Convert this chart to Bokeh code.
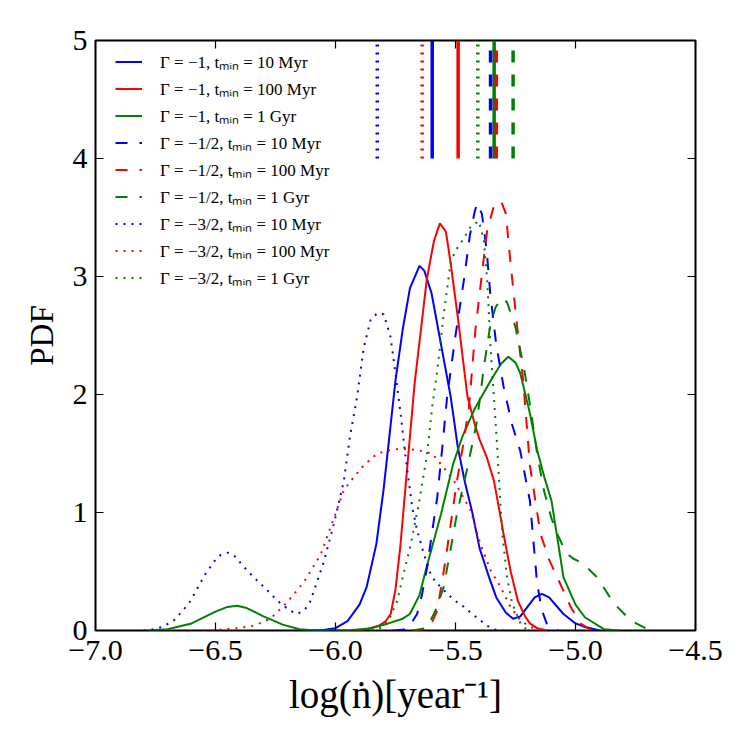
from bokeh.plotting import figure
from bokeh.models import Legend, LegendItem, FixedTicker, LinearAxis, Range1d
from bokeh.embed import file_html
from bokeh.resources import INLINE

# ---- PDF curves of log(n-dot) for each (Gamma, t_min) model ----
# Gamma = -1
x_g1_10 = [-6.10, -6.05, -6.00, -5.95, -5.90, -5.87, -5.83, -5.80, -5.75, -5.72, -5.69,
           -5.65, -5.63, -5.60, -5.56, -5.52, -5.49, -5.46, -5.43, -5.40, -5.36, -5.33,
           -5.29, -5.26, -5.23, -5.20, -5.17, -5.14, -5.11, -5.08, -5.05, -5.00, -4.96, -4.90]
pdf_g1_10 = [0.0, 0.005, 0.02, 0.08, 0.22, 0.37, 0.73, 1.19, 2.12, 2.55, 2.90,
             3.09, 3.05, 2.86, 2.42, 1.98, 1.55, 1.25, 1.00, 0.70, 0.45, 0.28,
             0.15, 0.10, 0.12, 0.20, 0.28, 0.31, 0.28, 0.21, 0.14, 0.06, 0.03, 0.0]

x_g1_100 = [-5.92, -5.87, -5.82, -5.79, -5.77, -5.75, -5.73, -5.70, -5.67, -5.64, -5.62,
            -5.59, -5.565, -5.54, -5.52, -5.49, -5.45, -5.42, -5.40, -5.37, -5.34, -5.32,
            -5.30, -5.27, -5.24, -5.21, -5.19, -5.16, -5.12]
pdf_g1_100 = [0.0, 0.01, 0.04, 0.08, 0.14, 0.35, 0.71, 1.41, 2.10, 2.62, 2.97,
              3.30, 3.45, 3.38, 3.11, 2.65, 1.98, 1.75, 1.62, 1.47, 1.27, 1.05,
              0.82, 0.50, 0.25, 0.12, 0.06, 0.02, 0.0]

x_g1_1000 = [-6.78, -6.70, -6.60, -6.50, -6.45, -6.41, -6.37, -6.30, -6.22, -6.15, -6.08,
             -5.95, -5.85, -5.78, -5.72, -5.69, -5.65, -5.62, -5.56, -5.51, -5.47, -5.42,
             -5.35, -5.31, -5.28, -5.25, -5.23, -5.19, -5.16, -5.13, -5.10, -5.05, -5.00,
             -4.96, -4.88, -4.82]
pdf_g1_1000 = [0.0, 0.01, 0.06, 0.16, 0.20, 0.21, 0.19, 0.12, 0.05, 0.01, 0.0,
               0.0, 0.02, 0.06, 0.10, 0.14, 0.30, 0.54, 0.99, 1.41, 1.65, 1.88,
               2.13, 2.26, 2.32, 2.27, 2.18, 1.84, 1.53, 1.30, 1.10, 0.45, 0.22,
               0.11, 0.01, 0.0]

# Gamma = -1/2
x_g05_10 = [-5.76, -5.70, -5.66, -5.64, -5.618, -5.60, -5.576, -5.555, -5.535, -5.50,
            -5.465, -5.44, -5.42, -5.41, -5.39, -5.37, -5.355, -5.33, -5.30, -5.265,
            -5.23, -5.19, -5.175, -5.16, -5.14, -5.12, -5.10, -5.07]
pdf_g05_10 = [0.0, 0.01, 0.14, 0.30, 0.54, 0.80, 1.13, 1.55, 1.98, 2.50,
              2.97, 3.35, 3.55, 3.62, 3.53, 3.22, 2.85, 2.42, 2.07, 1.75,
              1.52, 1.10, 0.75, 0.40, 0.17, 0.06, 0.02, 0.0]

x_g05_100 = [-5.68, -5.618, -5.60, -5.576, -5.542, -5.52, -5.496, -5.47, -5.444, -5.417,
             -5.39, -5.368, -5.34, -5.31, -5.29, -5.27, -5.243, -5.218, -5.19, -5.146,
             -5.11, -5.076, -5.02, -4.98, -4.94, -4.90]
pdf_g05_100 = [0.0, 0.01, 0.06, 0.17, 0.59, 0.90, 1.24, 1.55, 1.89, 2.55,
               3.02, 3.39, 3.60, 3.64, 3.53, 3.10, 2.57, 2.12, 1.40, 0.82,
               0.60, 0.45, 0.20, 0.06, 0.01, 0.0]

x_g05_1000 = [-5.68, -5.62, -5.583, -5.549, -5.514, -5.493, -5.45, -5.41, -5.382, -5.354,
              -5.333, -5.305, -5.285, -5.25, -5.215, -5.188, -5.16, -5.132, -5.10, -5.076,
              -5.04, -5.01, -4.98, -4.95, -4.91, -4.84, -4.77, -4.70, -4.66]
pdf_g05_1000 = [0.0, 0.02, 0.17, 0.37, 0.76, 1.00, 1.38, 1.78, 2.23, 2.60,
                2.74, 2.82, 2.78, 2.57, 2.23, 1.89, 1.50, 1.19, 0.95, 0.82,
                0.66, 0.61, 0.58, 0.53, 0.45, 0.23, 0.085, 0.01, 0.0]

# Gamma = -3/2
x_g15_10 = [-6.80, -6.77, -6.72, -6.674, -6.64, -6.604, -6.542, -6.50, -6.479, -6.449,
            -6.42, -6.382, -6.34, -6.299, -6.26, -6.229, -6.19, -6.16, -6.13, -6.104,
            -6.076, -6.049, -6.007, -5.965, -5.94, -5.91, -5.882, -5.854, -5.826, -5.799,
            -5.771, -5.75, -5.729, -5.708, -5.68, -5.66, -5.632, -5.604, -5.58, -5.56,
            -5.535, -5.50, -5.465, -5.43, -5.396, -5.36, -5.34, -5.30]
pdf_g15_10 = [0.0, 0.005, 0.03, 0.085, 0.16, 0.25, 0.48, 0.60, 0.64, 0.66,
              0.63, 0.54, 0.45, 0.37, 0.29, 0.23, 0.17, 0.14, 0.17, 0.25,
              0.42, 0.58, 0.90, 1.27, 1.64, 1.98, 2.40, 2.63, 2.69, 2.68,
              2.49, 2.18, 1.84, 1.47, 1.04, 0.85, 0.65, 0.48, 0.40, 0.37,
              0.31, 0.25, 0.20, 0.14, 0.085, 0.03, 0.01, 0.0]

x_g15_100 = [-6.55, -6.49, -6.41, -6.34, -6.271, -6.201, -6.132, -6.0625, -6.007, -5.965,
             -5.924, -5.882, -5.826, -5.771, -5.729, -5.66, -5.597, -5.549, -5.507, -5.4375,
             -5.396, -5.354, -5.3125, -5.271, -5.229, -5.188, -5.14]
pdf_g15_100 = [0.0, 0.005, 0.02, 0.04, 0.10, 0.24, 0.41, 0.64, 0.95, 1.19,
               1.30, 1.40, 1.50, 1.53, 1.54, 1.53, 1.50, 1.38, 1.27, 1.02,
               0.73, 0.51, 0.37, 0.20, 0.085, 0.03, 0.0]

x_g15_1000 = [-5.85, -5.80, -5.771, -5.743, -5.72, -5.6875, -5.653, -5.618, -5.597, -5.576,
              -5.549, -5.521, -5.50, -5.479, -5.4375, -5.403, -5.382, -5.368, -5.354, -5.34,
              -5.326, -5.315, -5.305, -5.285, -5.264, -5.229, -5.20]
pdf_g15_1000 = [0.0, 0.03, 0.12, 0.25, 0.45, 0.72, 1.07, 1.50, 1.90, 2.20,
                2.68, 3.11, 3.22, 3.28, 3.42, 3.47, 3.31, 2.97, 2.40, 1.98,
                1.55, 1.15, 0.82, 0.45, 0.23, 0.06, 0.0]

# Median of each model, marked by a short vertical bar at the top
medians = [-5.597, -5.489, -5.339, -5.354, -5.330, -5.260, -5.826, -5.639, -5.407]

labels = [
    "Γ = −1, tₘᵢₙ = 10 Myr",
    "Γ = −1, tₘᵢₙ = 100 Myr",
    "Γ = −1, tₘᵢₙ = 1 Gyr",
    "Γ = −1/2, tₘᵢₙ = 10 Myr",
    "Γ = −1/2, tₘᵢₙ = 100 Myr",
    "Γ = −1/2, tₘᵢₙ = 1 Gyr",
    "Γ = −3/2, tₘᵢₙ = 10 Myr",
    "Γ = −3/2, tₘᵢₙ = 100 Myr",
    "Γ = −3/2, tₘᵢₙ = 1 Gyr",
]

x_ticks = [-7.0, -6.5, -6.0, -5.5, -5.0, -4.5]
x_tick_labels = ["−7.0", "−6.5", "−6.0", "−5.5", "−5.0", "−4.5"]
y_ticks = [0, 1, 2, 3, 4, 5]
y_tick_labels = ["0", "1", "2", "3", "4", "5"]

curves = [
    (x_g1_10, pdf_g1_10), (x_g1_100, pdf_g1_100), (x_g1_1000, pdf_g1_1000),
    (x_g05_10, pdf_g05_10), (x_g05_100, pdf_g05_100), (x_g05_1000, pdf_g05_1000),
    (x_g15_10, pdf_g15_10), (x_g15_100, pdf_g15_100), (x_g15_1000, pdf_g15_1000),
]
colors = ["#0000ff", "#ff0000", "#008000"] * 3
dashes = ["solid"] * 3 + ["12 12"] * 3 + ["2 6"] * 3

SERIF = "Liberation Serif"

p = figure(width=750, height=750, x_range=Range1d(-7.0, -4.5), y_range=Range1d(0, 5),
           output_backend="svg", toolbar_location=None,
           min_border_left=95, min_border_right=55, min_border_top=40, min_border_bottom=120,
           background_fill_color="white", border_fill_color="white")
p.xaxis.visible = False
p.yaxis.visible = False
p.grid.visible = False
p.outline_line_color = "black"
p.outline_line_width = 2

items = []
for (xs, ys), c, d, lab, m in zip(curves, colors, dashes, labels, medians):
    r = p.line(xs, ys, line_color=c, line_width=2, line_dash=d)
    p.segment(x0=[m], y0=[4], x1=[m], y1=[5], line_color=c, line_width=3.5, line_dash=d)
    items.append(LegendItem(label=lab, renderers=[r]))

# Axes on all four sides with inward ticks
def make_axis(ticks, tick_labels, show_labels):
    ax = LinearAxis(ticker=FixedTicker(ticks=ticks),
                    major_label_overrides={t: s for t, s in zip(ticks, tick_labels)})
    ax.major_tick_in = 8
    ax.major_tick_out = 0
    ax.minor_tick_in = 0
    ax.minor_tick_out = 0
    ax.major_tick_line_width = 1.2
    ax.major_tick_line_color = "black"
    ax.axis_line_color = None
    ax.major_label_text_font = SERIF
    ax.major_label_text_font_size = "30px"
    ax.major_label_text_color = "black" if show_labels else None
    ax.axis_label_text_color = "black"
    return ax

xb = make_axis(x_ticks, x_tick_labels, True)
xb.major_label_standoff = 10
xb.axis_label = "log(ṅ)[year⁻¹]"
xb.axis_label_text_font = SERIF
xb.axis_label_text_font_size = "39px"
xb.axis_label_text_font_style = "normal"
xb.axis_label_standoff = 10
p.add_layout(xb, "below")

yl = make_axis(y_ticks, y_tick_labels, True)
yl.major_label_standoff = 8
yl.axis_label = "PDF"
yl.axis_label_text_font = SERIF
yl.axis_label_text_font_size = "33px"
yl.axis_label_text_font_style = "normal"
yl.axis_label_standoff = 10
p.add_layout(yl, "left")

xt = make_axis(x_ticks, x_tick_labels, False)
xt.major_label_text_font_size = "0px"
p.add_layout(xt, "above")
yr = make_axis(y_ticks, y_tick_labels, False)
yr.major_label_text_font_size = "0px"
p.add_layout(yr, "right")

legend = Legend(items=items, location=(20, 341), padding=0, spacing=4,
                glyph_width=27, glyph_height=23, label_height=23, label_standoff=18,
                border_line_color=None, background_fill_alpha=0,
                label_text_font=SERIF, label_text_font_size="17px",
                label_text_color="black")
p.add_layout(legend)

open("out.html", "w").write(file_html(p, INLINE))
